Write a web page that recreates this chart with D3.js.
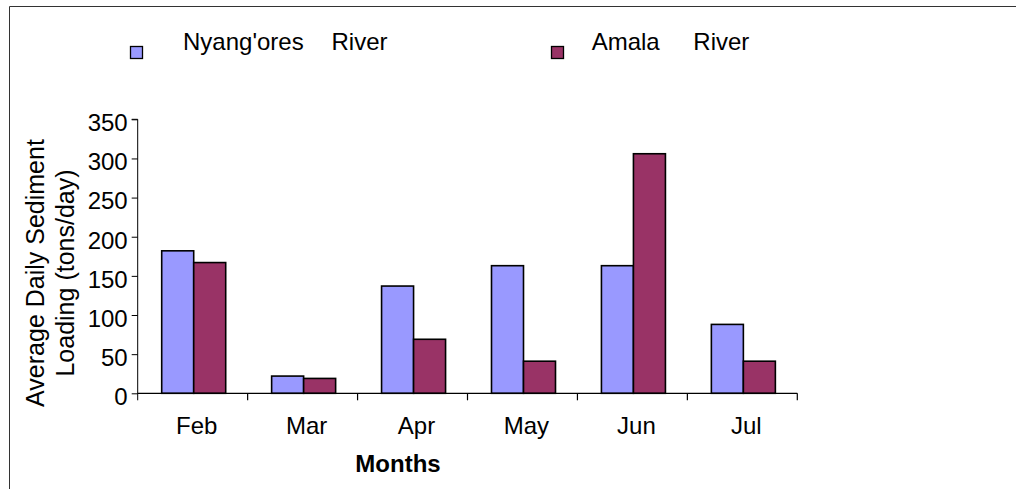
<!DOCTYPE html>
<html>
<head>
<meta charset="utf-8">
<script src="https://cdn.jsdelivr.net/npm/d3@7/dist/d3.min.js"></script>
<style>
  html, body { margin: 0; padding: 0; background: #fff; }
  svg { display: block; font-family: "Liberation Sans", Arial, sans-serif; }
</style>
</head>
<body>
<svg id="chart" width="1016" height="489"></svg>
<script>
const months = ["Feb", "Mar", "Apr", "May", "Jun", "Jul"];
const seriesNames = ["Nyang'ores River", "Amala River"];
const nyangores = [182, 22, 137, 163, 163, 88];
const amala = [167, 19, 69, 41, 306, 41];
const yTicks = [0, 50, 100, 150, 200, 250, 300, 350];
const colors = ["#9999FF", "#993366"];

const svg = d3.select("#chart");

// outer frame (open to right/bottom beyond the picture)
svg.append("path")
  .attr("d", "M9.5,495 L9.5,6.5 L1030,6.5")
  .attr("fill", "none").attr("stroke", "#333").attr("stroke-width", 1);

const x0 = 137.7, x1 = 797.3, yBase = 393.3, yTop = 119.3;

const x = d3.scaleBand().domain(months).range([x0, x1]).padding(0);
const xs = d3.scaleBand().domain(seriesNames).range([24, 88]).padding(0);
const y = d3.scaleLinear().domain([0, 350]).range([yBase, yTop]);

const data = months.map((m, i) => ({ month: m, values: [nyangores[i], amala[i]] }));

// bars
const g = svg.append("g");
data.forEach(d => {
  d.values.forEach((v, j) => {
    g.append("rect")
      .attr("x", x(d.month) + xs(seriesNames[j]))
      .attr("y", y(v))
      .attr("width", xs.bandwidth())
      .attr("height", y(0) - y(v))
      .attr("fill", colors[j])
      .attr("stroke", "#000")
      .attr("stroke-width", 1.6);
  });
});

// y axis
const yAxis = d3.axisLeft(y).tickValues(yTicks).tickSize(6).tickPadding(4);
const ya = svg.append("g").attr("transform", `translate(${x0},0)`).call(yAxis);
ya.select(".domain").attr("d", `M-6,${yTop}H0V${yBase + 7}`).attr("stroke", "#000");
ya.selectAll(".tick line").attr("stroke", "#000");
ya.selectAll(".tick text").attr("font-size", 24).attr("fill", "#000")
  .attr("font-family", "Liberation Sans, Arial, sans-serif").attr("dy", "0.47em");

// x axis
svg.append("line").attr("x1", x0).attr("x2", x1).attr("y1", yBase).attr("y2", yBase)
  .attr("stroke", "#000").attr("stroke-width", 1.3);
months.forEach(m => {
  const bx = x(m) + x.bandwidth();
  svg.append("line").attr("x1", bx).attr("x2", bx).attr("y1", yBase).attr("y2", yBase + 7)
    .attr("stroke", "#000").attr("stroke-width", 1.2);
  svg.append("text").attr("x", x(m) + x.bandwidth() / 2 + 4).attr("y", yBase + 41)
    .attr("text-anchor", "middle").attr("font-size", 24).attr("fill", "#000").text(m);
});

// axis titles
svg.append("text").attr("x", 398).attr("y", 472).attr("text-anchor", "middle")
  .attr("font-size", 24).attr("font-weight", "bold").text("Months");

const yt = svg.append("text").attr("transform", "translate(0,273) rotate(-90)")
  .attr("text-anchor", "middle").attr("font-size", 25).attr("fill", "#000");
yt.append("tspan").attr("x", 0).attr("y", 44).text("Average Daily Sediment");
yt.append("tspan").attr("x", 0).attr("y", 74).text("Loading (tons/day)");

// legend
const legend = [
  { sx: 130, tx: 183, rx: 331.5, words: ["Nyang'ores", "River"] },
  { sx: 551, tx: 591.7, rx: 693.3, words: ["Amala", "River"] }
];
legend.forEach((l, i) => {
  svg.append("rect").attr("x", l.sx + 0.5).attr("y", 46.5).attr("width", 12).attr("height", 12)
    .attr("fill", colors[i]).attr("stroke", "#000").attr("stroke-width", 1.3);
  svg.append("text").attr("x", l.tx).attr("y", 50).attr("font-size", 24).text(l.words[0]);
  svg.append("text").attr("x", l.rx).attr("y", 50).attr("font-size", 24).text(l.words[1]);
});
</script>
</body>
</html>
